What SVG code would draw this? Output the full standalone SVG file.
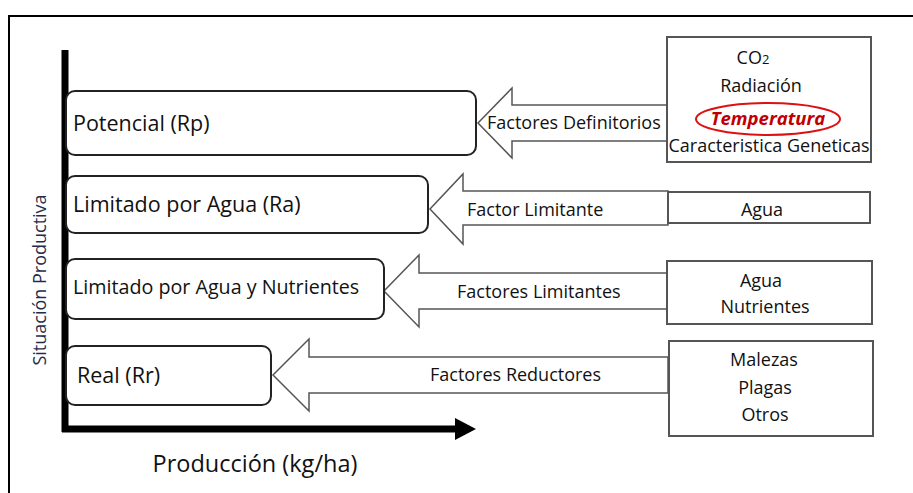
<svg xmlns="http://www.w3.org/2000/svg" width="913" height="493" viewBox="0 0 913 493">
<style>
text{font-family:"Open Sans","Liberation Sans",sans-serif;fill:#111}
.lvl{fill:#fff;stroke:#222;stroke-width:2}
.src{fill:#fff;stroke:#555;stroke-width:2}
.arr{fill:#fff;stroke:#555;stroke-width:1.5;stroke-linejoin:miter}
.t18{font-size:21.5px}
.t16{font-size:18px}
.mid{text-anchor:middle}
</style>
<rect x="9" y="16" width="920" height="490" fill="#fff" stroke="#000" stroke-width="2"/>
<g id="connectors">
<polygon class="arr" points="667,105 512,105 512,88 478,123 512,158 512,141 667,141"/>
<polygon class="arr" points="668,191 463,191 463,174 430,209 463,244 463,225 668,225"/>
<polygon class="arr" points="667,273 419,273 419,255 384,291 419,327 419,309 667,309"/>
<polygon class="arr" points="668,357 309,357 309,339 273,375 309,411 309,393 668,393"/>
<text class="t16" x="487" y="129">Factores Definitorios</text>
<text class="t16" x="467" y="216">Factor Limitante</text>
<text class="t16" x="457" y="298">Factores Limitantes</text>
<text class="t16" x="430" y="381">Factores Reductores</text>
</g>
<g id="axes">
<line x1="65" y1="50" x2="65" y2="432" stroke="#000" stroke-width="7"/>
<line x1="62" y1="429" x2="458" y2="429" stroke="#000" stroke-width="7"/>
<polygon points="455,418 476,429 455,440" fill="#000"/>
<text x="255" y="472" class="mid" style="font-size:23.5px">Producción (kg/ha)</text>
<text transform="translate(46,280) rotate(-90)" class="mid" style="font-size:18px;fill:#1f2d4d">Situación Productiva</text>
</g>
<g id="potencial">
<rect class="lvl" x="66" y="91" width="410" height="64" rx="9"/>
<text class="t18" x="73" y="131">Potencial (Rp)</text>
</g>
<g id="limitado-agua">
<rect class="lvl" x="66" y="176" width="362" height="57" rx="9"/>
<text class="t18" x="73" y="212">Limitado por Agua (Ra)</text>
</g>
<g id="limitado-agua-nutrientes">
<rect class="lvl" x="66" y="259" width="318" height="60" rx="9"/>
<text x="73" y="294" style="font-size:19.7px">Limitado por Agua y Nutrientes</text>
</g>
<g id="real">
<rect class="lvl" x="66" y="346" width="205" height="59" rx="9"/>
<text class="t18" x="77" y="383">Real (Rr)</text>
</g>
<g id="factores-definitorios">
<rect class="src" x="667" y="37" width="204" height="125"/>
<text class="t16 mid" x="753" y="64">CO<tspan style="font-size:13px">2</tspan></text>
<text class="t16 mid" x="761" y="92">Radiación</text>
<ellipse cx="768" cy="119" rx="72" ry="16" fill="none" stroke="#d11" stroke-width="2"/>
<text class="t16 mid" x="768" y="125" style="font-weight:bold;font-style:italic;fill:#c00000;font-size:18.5px">Temperatura</text>
<text class="t16 mid" x="769" y="152">Caracteristica Geneticas</text>
</g>
<g id="agua">
<rect class="src" x="668" y="192" width="202" height="31"/>
<text class="t16 mid" x="762" y="216">Agua</text>
</g>
<g id="agua-nutrientes">
<rect class="src" x="667" y="261" width="205" height="63"/>
<text class="t16 mid" x="761" y="287">Agua</text>
<text class="t16 mid" x="765" y="313">Nutrientes</text>
</g>
<g id="reductores">
<rect class="src" x="669" y="341" width="204" height="95"/>
<text class="t16 mid" x="764" y="366">Malezas</text>
<text class="t16 mid" x="765" y="394">Plagas</text>
<text class="t16 mid" x="765" y="421">Otros</text>
</g>
</svg>
